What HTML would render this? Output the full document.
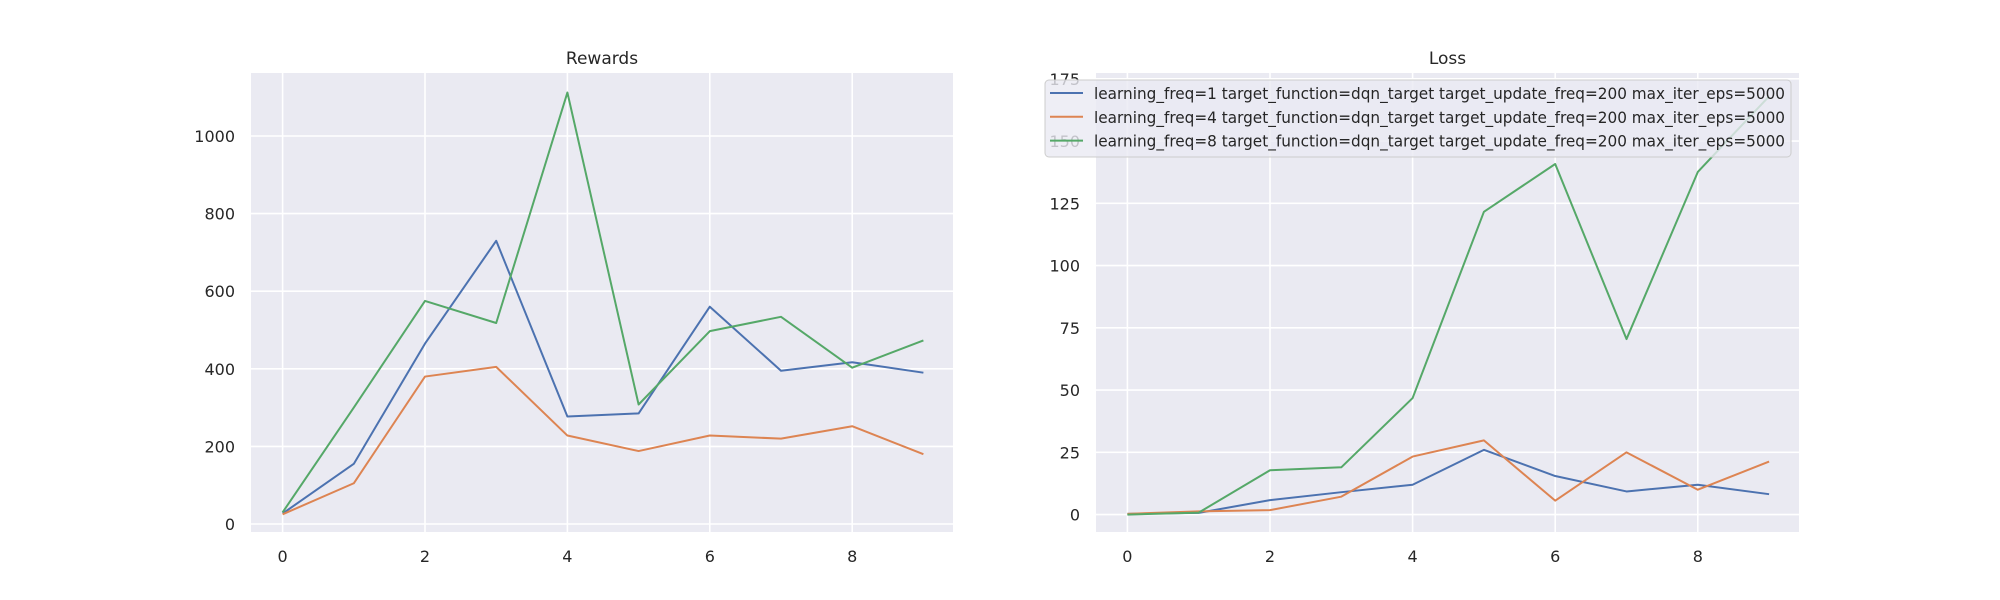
<!DOCTYPE html>
<html><head><meta charset="utf-8"><style>
html,body{margin:0;padding:0;background:#fff;}
svg{display:block;font-family:"DejaVu Sans","Liberation Sans",sans-serif;}
</style></head><body>
<svg id="chart" width="2000" height="600" viewBox="0 0 2000 600"></svg>
<script>
const xs = [0,1,2,3,4,5,6,7,8,9];
const xTicks = [0,2,4,6,8];
const rewardsBlue = [27,155,465,730,277,285,560,395,417,390];
const rewardsOrange = [25,105,380,405,228,188,228,220,252,180];
const rewardsGreen = [30,300,575,518,1112,308,497,534,403,473];
const rewardTicks = [0,200,400,600,800,1000];
const lossBlue = [0.3,0.7,5.8,9,12,26,15.5,9.3,12,8.2];
const lossOrange = [0.3,1.3,1.8,7.2,23.3,29.8,5.6,25,10,21.3];
const lossGreen = [0,0.8,17.8,19,46.8,121.6,140.8,70.5,137.6,168];
const lossTicks = [0,25,50,75,100,125,150,175];
const seriesLabels = [
 "learning_freq=1 target_function=dqn_target target_update_freq=200 max_iter_eps=5000",
 "learning_freq=4 target_function=dqn_target target_update_freq=200 max_iter_eps=5000",
 "learning_freq=8 target_function=dqn_target target_update_freq=200 max_iter_eps=5000"];
const colors = ["#4c72b0","#dd8452","#55a868"];

const NS="http://www.w3.org/2000/svg";
const svg=document.getElementById('chart');
function mk(tag,attrs,parent){const e=document.createElementNS(NS,tag);for(const k in attrs)e.setAttribute(k,attrs[k]);(parent||svg).appendChild(e);return e;}

function panel(cfg){
  const g=mk('g',{});
  
  
  const bg=mk('rect',{x:cfg.left,y:73,width:cfg.right-cfg.left,height:459,fill:'#eaeaf2'},g);
  
  
  const xf=v=>cfg.x0+v*cfg.xu;
  const yf=v=>cfg.y0-v*cfg.yu;
  xTicks.forEach(t=>{
    const l=mk('line',{x1:xf(t),x2:xf(t),y1:73,y2:532,stroke:'#fff','stroke-width':1.6},g);
    
    
    const tx=mk('text',{x:xf(t),y:562,'text-anchor':'middle','font-size':16,fill:'#262626'},g);
    tx.textContent=t;
    
    
  });
  cfg.ticks.forEach(t=>{
    const l=mk('line',{x1:cfg.left,x2:cfg.right,y1:yf(t),y2:yf(t),stroke:'#fff','stroke-width':1.6},g);
    
    
    const tx=mk('text',{x:cfg.left-16,y:yf(t)+6,'text-anchor':'end','font-size':16,fill:'#262626'},g);
    tx.textContent=t;
    
    
  });
  cfg.series.forEach((s,i)=>{
    const p=mk('polyline',{points:s.map((v,j)=>xf(xs[j])+','+yf(v)).join(' '),fill:'none',stroke:colors[i],'stroke-width':2,'stroke-linejoin':'round'},g);
    
    
  });
  const ti=mk('text',{x:(cfg.left+cfg.right)/2,y:64,'text-anchor':'middle','font-size':17,fill:'#262626'},g);
  ti.textContent=cfg.title;
  
  
}
panel({name:'rewards-panel',title:'Rewards',left:251,right:953,x0:282.6,xu:71.2,y0:524,yu:0.388,ticks:rewardTicks,series:[rewardsBlue,rewardsOrange,rewardsGreen]});
panel({name:'loss-panel',title:'Loss',left:1096,right:1799,x0:1127.4,xu:71.3,y0:514.6,yu:2.49,ticks:lossTicks,series:[lossBlue,lossOrange,lossGreen]});

const lg=mk('g',{});


mk('rect',{x:1045,y:80,width:746,height:77,rx:4,fill:'#eaeaf2','fill-opacity':0.8,stroke:'#cccccc','stroke-width':1},lg);
seriesLabels.forEach((s,i)=>{
  const y=93+i*23.8;
  const ln=mk('line',{x1:1050,x2:1083,y1:y,y2:y,stroke:colors[i],'stroke-width':2},lg);
  
  
  const t=mk('text',{x:1094,y:y+6,'font-size':16,fill:'#262626',textLength:691,lengthAdjust:'spacingAndGlyphs'},lg);
  t.textContent=s;
  
  
});
</script>
</body></html>
